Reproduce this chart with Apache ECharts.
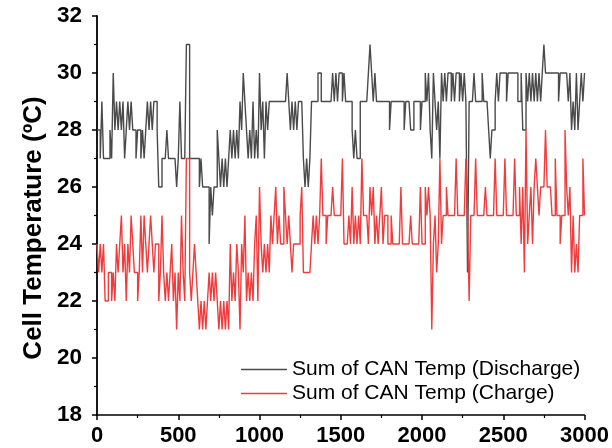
<!DOCTYPE html>
<html><head><meta charset="utf-8">
<script src="https://cdn.jsdelivr.net/npm/echarts@6/dist/echarts.min.js"></script>
<style>html,body{margin:0;padding:0;background:#fff}#c{width:612px;height:448px}</style>
</head><body><div id="c"></div>
<script>
// Cell temperature (°C), one reading every 10 s
const sampleInterval = 10;
const discharge = [
28,28,27,29,27,27,27,27,28,27,
30,28,29,28,29,28,29,27,28,29,
28,29,28,28,27,28,28,27,28,27,
28,29,28,29,28,29,29,28,26,26,
27,27,27,28,27,27,27,27,27,26,
27,29,27,27,27,31,31,27,27,27,
27,27,27,26,27,26,26,26,26,24,
26,25,26,26,28,27,26,27,26,27,
26,27,28,27,28,27,28,27,29,28,
30,29,28,27,28,27,29,27,28,27,
30,28,29,27,29,28,29,29,29,29,
29,29,29,29,29,29,29,30,29,28,
29,28,29,28,29,29,29,27,26,27,
26,27,29,29,29,29,30,30,29,29,
29,29,29,29,29,30,29,30,29,30,
30,29,30,29,29,29,29,28,27,28,
27,27,29,29,29,29,29,30,31,30,
29,30,29,29,29,29,29,29,29,29,
28,29,29,29,29,29,29,29,29,28,
29,29,29,28,28,29,29,29,29,28,
29,29,30,29,30,28,27,30,29,28,
29,27,30,29,30,29,30,30,29,30,
29,30,30,29,30,29,30,29,23,29,
29,29,30,29,29,29,29,30,29,29,
29,28,27,28,28,29,30,29,30,30,
30,30,29,30,30,30,30,30,30,29,
29,30,28,28,30,29,30,29,30,29,
30,29,30,29,30,31,30,30,30,30,
30,30,30,30,29,30,30,30,30,30,
29,30,28,29,28,30,28,29,30,29,30
];
const charge = [
24,23,24,23,24,22,22,23,23,22,
23,22,24,23,24,25,23,24,22,24,
23,25,24,23,23,22,23,25,23,25,
24,23,24,25,24,23,24,24,22,23,
25,23,22,23,22,23,24,22,23,21,
23,22,25,23,22,27,27,23,22,23,
24,23,22,21,22,21,22,21,22,23,
22,23,22,23,22,21,22,21,22,21,
22,21,24,22,23,22,24,23,21,24,
23,25,22,23,22,23,22,24,25,22,
26,24,23,24,23,24,23,25,24,25,
26,24,25,24,24,26,25,24,25,24,
23,24,24,24,24,25,26,23,23,23,
23,23,24,25,24,25,24,25,27,25,
25,24,25,25,25,26,25,25,25,25,
25,27,24,24,24,25,24,26,24,25,
24,25,24,27,25,25,25,24,26,25,
26,24,25,24,25,26,24,25,25,24,
24,25,24,24,24,24,24,26,24,24,
24,24,24,25,24,24,24,24,24,26,
24,24,26,25,26,25,21,24,25,23,
24,27,24,25,25,26,25,25,25,25,
25,27,25,25,25,25,25,27,25,22,
25,25,25,27,25,25,25,25,25,26,
25,25,25,25,25,27,25,25,25,25,
25,27,25,25,25,25,25,27,25,25,
26,24,26,23,28,24,25,26,24,26,
27,26,25,26,26,26,28,26,26,26,
25,25,27,25,25,24,25,25,28,26,
25,26,23,25,23,24,23,25,25,27,25
];
const seriesNames = ['Sum of CAN Temp (Discharge)', 'Sum of CAN Temp (Charge)'];
const xTicks = [0, 3000, 500];
const yTicks = [18, 32, 2];

// each reading is held until the next one (step trace)
function toSteps(arr) {
  const out = [];
  for (let i = 0; i < arr.length; i++) {
    const t0 = i * sampleInterval;
    const t1 = Math.min(t0 + sampleInterval, xTicks[1]);
    out.push([t0, arr[i]]);
    if (t1 > t0) out.push([t1, arr[i]]);
  }
  return out;
}
const FONT = '"Liberation Sans", Arial, sans-serif';

const chart = echarts.init(document.getElementById('c'), null, {renderer: 'canvas'});
chart.setOption({
  animation: false,
  backgroundColor: '#fff',
  grid: {left: 97, right: 20, top: 16, bottom: 33, containLabel: false},
  legend: {
    orient: 'vertical', left: 241, top: 359, itemGap: 3, padding: 0,
    itemWidth: 46, itemHeight: 1.5, icon: 'rect',
    textStyle: {fontFamily: FONT, fontSize: 21, color: '#000'},
    data: seriesNames
  },
  xAxis: {
    type: 'value', min: xTicks[0], max: xTicks[1], interval: xTicks[2],
    axisLine: {lineStyle: {color: '#000', width: 1.5}},
    axisTick: {length: 5, lineStyle: {color: '#000', width: 1.5}},
    minorTick: {show: true, splitNumber: 2, length: 3, lineStyle: {color: '#000', width: 1.2}},
    splitLine: {show: false},
    axisLabel: {fontFamily: FONT, fontWeight: 'bold', fontSize: 22, color: '#000', margin: 10,
      formatter: v => String(v)}
  },
  yAxis: {
    type: 'value', min: yTicks[0], max: yTicks[1], interval: yTicks[2],
    axisLine: {show: true, lineStyle: {color: '#000', width: 1.8}},
    axisTick: {show: true, length: 5, lineStyle: {color: '#000', width: 1.5}},
    minorTick: {show: true, splitNumber: 2, length: 3, lineStyle: {color: '#000', width: 1.2}},
    splitLine: {show: false},
    axisLabel: {fontFamily: FONT, fontWeight: 'bold', fontSize: 22.5, color: '#000', margin: 15}
  },
  graphic: [{
    type: 'text', x: 34, y: 228, rotation: Math.PI / 2,
    style: {text: 'Cell Temperature (ºC)', fill: '#000', font: 'bold 26px ' + FONT,
      textAlign: 'center', textVerticalAlign: 'middle'}
  }],
  series: [
    {name: seriesNames[0], type: 'line', symbol: 'none', data: toSteps(discharge),
     color: '#4a4a4a', lineStyle: {width: 1.4, color: '#4a4a4a'}},
    {name: seriesNames[1], type: 'line', symbol: 'none', data: toSteps(charge),
     color: '#f03c3c', lineStyle: {width: 1.4, color: '#f03c3c'}}
  ]
});
</script></body></html>
